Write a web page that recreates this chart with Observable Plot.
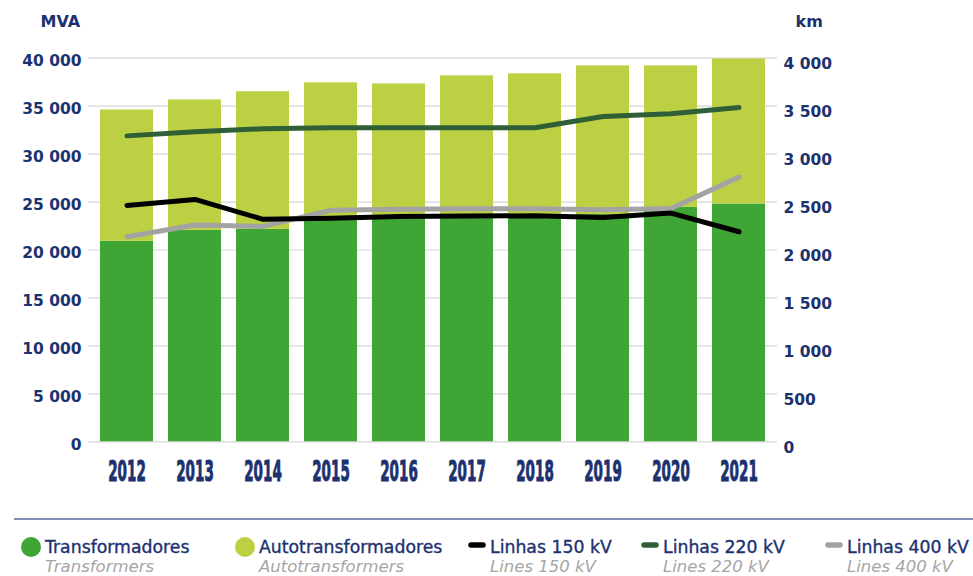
<!DOCTYPE html>
<html>
<head>
<meta charset="utf-8">
<script src="https://cdn.jsdelivr.net/npm/d3@7"></script>
<script src="https://cdn.jsdelivr.net/npm/@observablehq/plot@0.6"></script>
<style>
  html, body { margin: 0; padding: 0; background: #fff; }
  #wrap { width: 973px; height: 576px; position: relative; overflow: hidden; }
  #legend { display: block; }
</style>
</head>
<body>
<div id="wrap"></div>
<script>
// ---- data ----
const years = [2012, 2013, 2014, 2015, 2016, 2017, 2018, 2019, 2020, 2021];
const transformadores = [20900, 22050, 22150, 23250, 23250, 23300, 23300, 23700, 24450, 24800];
const autotransformadores = [13700, 13600, 14350, 14180, 14070, 14860, 15070, 15500, 14750, 15130];
const linhas150 = [2465, 2527, 2320, 2330, 2350, 2354, 2357, 2340, 2385, 2190];
const linhas220 = [3190, 3232, 3264, 3274, 3274, 3274, 3274, 3392, 3420, 3485];
const linhas400 = [2139, 2260, 2246, 2415, 2425, 2430, 2430, 2420, 2432, 2760];
const mvaTicks = [0, 5000, 10000, 15000, 20000, 25000, 30000, 35000, 40000];
const kmTicks = [0, 500, 1000, 1500, 2000, 2500, 3000, 3500, 4000];
const barSeries = ["Transformadores", "Autotransformadores"];
const lineSeries = ["Linhas 150 kV", "Linhas 220 kV", "Linhas 400 kV"];
const legendLabels = ["Transformadores", "Autotransformadores", "Linhas 150 kV", "Linhas 220 kV", "Linhas 400 kV"];
const legendLabelsEn = ["Transformers", "Autotransformers", "Lines 150 kV", "Lines 220 kV", "Lines 400 kV"];

// ---- styles ----
const navy = "#1c3170";
const colors = {
  "Transformadores": "#3fa535",
  "Autotransformadores": "#bdd044",
  "Linhas 150 kV": "#000000",
  "Linhas 220 kV": "#2f5f36",
  "Linhas 400 kV": "#a3a3a3"
};
const kmFactor = 10; // right axis: 4 000 km aligns with 40 000 MVA

const fmt = d3.formatLocale({decimal: ",", thousands: " ", grouping: [3], currency: ["", ""]}).format(",");

const bars = [];
years.forEach((y, i) => {
  bars.push({year: y, series: barSeries[0], value: transformadores[i]});
  bars.push({year: y, series: barSeries[1], value: autotransformadores[i]});
});
const lineArrays = [linhas150, linhas220, linhas400];
const lines = [];
// draw order: 400, 220, 150 (black on top)
[2, 1, 0].forEach(k => {
  years.forEach((y, i) => lines.push({year: y, series: lineSeries[k], km: lineArrays[k][i]}));
});

const W = 973, H = 505;
const chart = Plot.plot({
  width: W,
  height: H,
  marginTop: 57.7,
  marginBottom: H - 441.3,
  marginLeft: 88,
  marginRight: 196,
  style: {fontFamily: "'DejaVu Sans', sans-serif", background: "#fff", overflow: "visible"},
  x: {type: "band", domain: years, paddingInner: 0.22, paddingOuter: 0.176, label: null},
  y: {domain: [0, 40000], label: null},
  color: {domain: [...barSeries, ...lineSeries], range: [...barSeries, ...lineSeries].map(s => colors[s])},
  marks: [
    Plot.gridY(mvaTicks, {stroke: "#d6d6d6", strokeOpacity: 1, strokeWidth: 1.2}),
    Plot.barY(bars, {x: "year", y: "value", fill: "series", order: barSeries, insetLeft: 0, insetRight: 0}),
    Plot.line(lines, {x: "year", y: d => d.km * kmFactor, z: "series", stroke: "series", strokeWidth: 5, strokeLinecap: "round", strokeLinejoin: "round"}),
    Plot.axisY(mvaTicks, {anchor: "left", tickSize: 0, tickPadding: 7, tickFormat: fmt, fill: navy, fontSize: 15.5, fontWeight: "bold", dy: 3, label: null}),
    Plot.axisY(kmTicks.map(v => v * kmFactor), {anchor: "right", tickSize: 0, tickPadding: 6, tickFormat: d => fmt(d / kmFactor), fill: navy, fontSize: 15.5, fontWeight: "bold", dy: 6, label: null}),
    Plot.axisX({tickSize: 0, tickPadding: 19, fill: navy, fontSize: 13.5, fontWeight: "bold", label: null, tickFormat: d => String(d)}),
    Plot.text(["MVA"], {frameAnchor: "top-left", dx: -48, dy: -36, fill: navy, fontSize: 16, fontWeight: "bold", textAnchor: "start", lineAnchor: "middle"}),
    Plot.text(["km"], {frameAnchor: "top-right", dx: 18, dy: -36, fill: navy, fontSize: 16, fontWeight: "bold", textAnchor: "start", lineAnchor: "middle"})
  ]
});
document.getElementById("wrap").appendChild(chart);

// tall, condensed, heavy year labels (stretched vertically)
d3.select(chart).selectAll('g[aria-label="x-axis tick label"] text')
  .each(function() {
    const t = this.getAttribute("transform") || "";
    this.setAttribute("transform", t + " scale(1,2.15)");
  })
  .style("font-family", "'DejaVu Sans', sans-serif")
  .style("stroke", navy)
  .style("stroke-width", 0.5);

// ---- legend ----
const LH = 576 - H;
const leg = d3.select("#wrap").append("svg")
  .attr("id", "legend")
  .attr("width", W).attr("height", LH)
  .style("font-family", "'DejaVu Sans', sans-serif");
const oy = -H; // legend drawn in page coordinates
const g = leg.append("g").attr("transform", `translate(0,${oy})`);
g.append("line").attr("x1", 14).attr("x2", 973).attr("y1", 519).attr("y2", 519)
  .attr("stroke", "#8391b8").attr("stroke-width", 2);
const legendX = [45, 259, 490, 663, 847];
const legendKeys = [...barSeries, ...lineSeries];
legendKeys.forEach((key, i) => {
  const x = legendX[i];
  if (i < 2) {
    g.append("circle").attr("cx", x - 14).attr("cy", 547).attr("r", 10).attr("fill", colors[key]);
  } else {
    g.append("line").attr("x1", x - 19).attr("x2", x - 7).attr("y1", 545).attr("y2", 545)
      .attr("stroke", colors[key]).attr("stroke-width", 5.5).attr("stroke-linecap", "round");
  }
  g.append("text").attr("x", x).attr("y", 552.5).attr("fill", navy)
    .attr("font-size", 17.3).style("stroke", navy).style("stroke-width", 0.35)
    .text(legendLabels[i]);
  g.append("text").attr("x", x).attr("y", 571.5).attr("fill", "#a6a6a6")
    .attr("font-size", 16.5).attr("font-style", "italic")
    .text(legendLabelsEn[i]);
});
</script>
</body>
</html>
